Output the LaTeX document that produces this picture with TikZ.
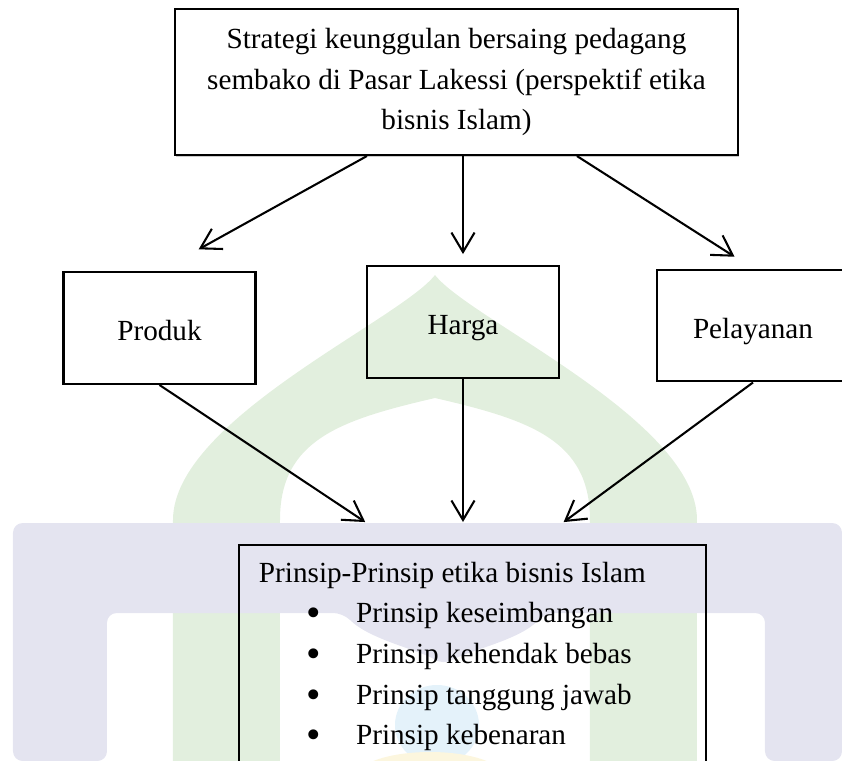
\documentclass[tikz,border=0pt]{standalone}
\usepackage{fontspec}
\setmainfont{Liberation Serif}
\usetikzlibrary{arrows.meta,shadows}
\definecolor{wmgreen}{RGB}{226,239,222}
\definecolor{wmlavender}{RGB}{228,228,240}
\definecolor{wmblue}{RGB}{228,242,250}
\definecolor{wmyellow}{RGB}{252,246,222}
\newcommand\butir{\hspace*{19.4pt}\makebox[20.5pt][l]{\raisebox{-1.6pt}{\fontsize{17}{17}\selectfont•}}}

\begin{document}
\begin{tikzpicture}[x=0.411pt, y=-0.411pt, >={Straight Barb[length=8pt,width=9.5pt]},
  every node/.style={font=\fontsize{12}{16.6}\selectfont},
  box/.style={draw, line width=0.85pt, minimum width=78.9pt, minimum height=46pt, text height=10.3pt, text depth=0pt},
  arrow/.style={->, line width=0.85pt}]
  \useasboundingbox (0,0) rectangle (842,761);
  \clip (0,0) rectangle (842,761);
  \fill[wmgreen] (173,761) -- (173,520) .. controls (173,420) and (400,320) .. (435,275)
    .. controls (470,320) and (697,420) .. (697,520) -- (697,761) -- (590,761) -- (590,520)
    .. controls (590,440) and (530,420) .. (435,398) .. controls (340,420) and (280,440) .. (280,520)
    -- (280,761) -- cycle;
  \fill[wmlavender, rounded corners=4pt] (13,761) -- (13,523) -- (842,523) -- (842,761) -- (765,761)
    -- (765,613) -- (545,613) .. controls (520,640) and (470,650) .. (443,665)
    .. controls (420,650) and (370,640) .. (343,613) -- (107,613) -- (107,761) -- cycle;
  \fill[wmblue] (437,725) ellipse [x radius=42, y radius=40];
  \fill[wmyellow] (430,778) ellipse [x radius=75, y radius=26];
  \node[draw, fill=white, line width=0.85pt, minimum width=231.4pt, minimum height=60pt, align=center,
    drop shadow={shadow xshift=0.5pt, shadow yshift=-1pt, fill=black!40, opacity=0.5}] (strategi) at (456.5,82)
    {Strategi keunggulan bersaing pedagang\\sembako di Pasar Lakessi (perspektif etika\\bisnis Islam)};
  \node[box] (produk) at (159.5,328) {Produk};
  \node[box] (harga) at (463,322) {Harga};
  \node[box] (pelayanan) at (753,325.5) {Pelayanan};
  \node[draw, line width=0.85pt, align=flush left, text width=175.5pt, inner xsep=8.2pt, minimum height=91.7pt,
    font=\fontsize{12}{16.7}\selectfont] (prinsip) at (472.5,656.5)
    {Prinsip-Prinsip etika bisnis Islam\\
     \butir Prinsip keseimbangan\\
     \butir Prinsip kehendak bebas\\
     \butir Prinsip tanggung jawab\\
     \butir Prinsip kebenaran};
  \draw[arrow, shorten >=18.4pt] ([xshift=-36.8pt]strategi.south) -- (produk.north);
  \draw[arrow, shorten >=4.5pt] (strategi.south -| harga.north) -- (harga.north);
  \draw[arrow, shorten >=9pt] ([xshift=49.5pt]strategi.south) -- (pelayanan.north);
  \draw[arrow, shorten >=16.2pt] (produk.south) -- ([xshift=-30.6pt]prinsip.north);
  \draw[arrow, shorten >=9pt] (harga.south) -- (harga.south |- prinsip.north);
  \draw[arrow, shorten >=15.1pt] (pelayanan.south) -- ([xshift=25.3pt]prinsip.north);
\end{tikzpicture}
\end{document}
